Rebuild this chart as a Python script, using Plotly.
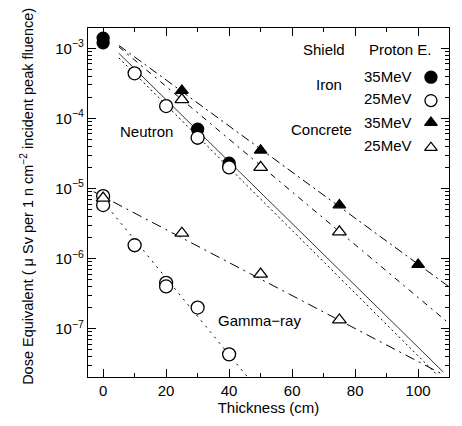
import plotly.graph_objects as go

# ---- data ----
# Neutron
iron35_n_x = [0, 0, 30, 40]
iron35_n_y = [1.4e-3, 1.2e-3, 7.0e-5, 2.3e-5]
iron25_n_x = [10, 20, 30, 40]
iron25_n_y = [4.4e-4, 1.5e-4, 5.3e-5, 2.0e-5]
conc35_n_x = [25, 50, 75, 100]
conc35_n_y = [2.5e-4, 3.5e-5, 5.8e-6, 8.2e-7]
conc25_n_x = [25, 50, 75]
conc25_n_y = [1.85e-4, 2.0e-5, 2.4e-6]
# Gamma-ray
iron25_g_x = [0, 0, 10, 20, 20, 30, 40]
iron25_g_y = [7.8e-6, 5.8e-6, 1.55e-6, 4.5e-7, 4.0e-7, 2.0e-7, 4.3e-8]
conc25_g_x = [0, 25, 50, 75]
conc25_g_y = [7.3e-6, 2.3e-6, 6.0e-7, 1.33e-7]

# fitted lines (endpoints)
fit_conc35_n = ([5, 110], [1.1e-3, 3.9e-7])
fit_conc25_n = ([5, 110], [1.05e-3, 1.17e-7])
fit_iron35_n = ([5, 108], [8.5e-4, 2.4e-8])
fit_iron25_n = ([5, 106], [7.3e-4, 2.2e-8])
fit_conc25_g = ([-3, 108], [9.0e-6, 2.2e-8])
fit_iron25_g = ([0, 46], [6.5e-6, 2.0e-8])

x_ticks = [0, 20, 40, 60, 80, 100]
x_minor = [10, 30, 50, 70, 90]
y_tick_exp = [-7, -6, -5, -4, -3]

legend_rows = ["35MeV", "25MeV", "35MeV", "25MeV"]

FONT = "Liberation Sans, Arial, sans-serif"
fig = go.Figure()

def line(fit, dash, width=1.0):
    fig.add_trace(go.Scatter(x=fit[0], y=fit[1], mode="lines",
                             line=dict(color="black", width=width, dash=dash),
                             showlegend=False, hoverinfo="skip"))

line(fit_conc35_n, "9px,4px,2px,4px")
line(fit_conc25_n, "6px,5px,2px,5px")
line(fit_iron35_n, "solid", 0.8)
line(fit_iron25_n, "2px,3px")
line(fit_conc25_g, "10px,5px,2px,5px")
line(fit_iron25_g, "2px,5px")

def pts(x, y, symbol, filled, size, xaxis="x", yaxis="y"):
    fig.add_trace(go.Scatter(x=x, y=y, mode="markers", xaxis=xaxis, yaxis=yaxis,
                             marker=dict(symbol=symbol, size=size,
                                         color="black" if filled else "white",
                                         line=dict(color="black", width=1.3)),
                             showlegend=False))

pts(iron35_n_x, iron35_n_y, "circle", True, 12)
pts(iron25_n_x, iron25_n_y, "circle", False, 13)
pts(conc35_n_x, conc35_n_y, "triangle-up", True, 11)
pts(conc25_n_x, conc25_n_y, "triangle-up", False, 12)
pts(iron25_g_x, iron25_g_y, "circle", False, 13)
pts(conc25_g_x, conc25_g_y, "triangle-up", False, 12)

# legend symbols on an overlay axis in [0,1]
leg_y = [0.859, 0.792, 0.729, 0.657]
leg_sym = [("circle", True, 12), ("circle", False, 12),
           ("triangle-up", True, 11), ("triangle-up", False, 11)]
for yy, (s, f, sz) in zip(leg_y, leg_sym):
    pts([0.950], [yy], s, f, sz, "x2", "y2")

ann = []
def txt(x, y, t, size=15, xanchor="center"):
    ann.append(dict(x=x, y=y, xref="paper", yref="paper", text=t, showarrow=False,
                    xanchor=xanchor, yanchor="middle", font=dict(family=FONT, size=size, color="black")))

txt(0.654, 0.939, "Shield")
txt(0.867, 0.939, "Proton E.")
for yy, t in zip([0.861, 0.798, 0.729, 0.662], legend_rows):
    txt(0.831, yy, t)
txt(0.668, 0.839, "Iron")
txt(0.648, 0.709, "Concrete")
txt(0.163, 0.704, "Neutron")
txt(0.474, 0.163, "Gamma\u2212ray")
ann.append(dict(x=-0.169, y=0.519, xref="paper", yref="paper",
                text="Dose Equivalent ( \u03bc Sv per 1 n cm<sup>\u22122</sup> incident peak fluence)",
                showarrow=False, textangle=-90, xanchor="center", yanchor="middle",
                font=dict(family=FONT, size=14.5, color="black")))

y_minor = [m * 10 ** e for e in range(-8, -2) for m in range(2, 10)]

fig.update_layout(
    width=462, height=426,
    margin=dict(l=88, r=13, t=28, b=37),
    paper_bgcolor="white", plot_bgcolor="white",
    font=dict(family=FONT, size=15, color="black"),
    annotations=ann,
    xaxis=dict(range=[-4.8, 109.8], showgrid=False, zeroline=False,
               showline=True, linecolor="black", linewidth=1.2, mirror="allticks",
               ticks="inside", ticklen=8, tickcolor="black",
               tickvals=x_ticks, ticktext=[str(v) for v in x_ticks],
               minor=dict(tickvals=x_minor, ticks="inside", ticklen=4, tickcolor="black"),
               title=dict(text="Thickness (cm)", font=dict(size=15), standoff=4),
               tickfont=dict(size=15)),
    yaxis=dict(type="log", range=[-7.69, -2.71], showgrid=False, zeroline=False,
               showline=True, linecolor="black", linewidth=1.2, mirror="allticks",
               ticks="inside", ticklen=8, tickcolor="black",
               tickvals=[10.0 ** e for e in y_tick_exp],
               ticktext=["10<sup>\u2212%d</sup>" % (-e) for e in y_tick_exp],
               minor=dict(tickvals=y_minor, ticks="inside", ticklen=4, tickcolor="black"),
               tickfont=dict(size=15)),
    xaxis2=dict(range=[0, 1], overlaying="x", visible=False),
    yaxis2=dict(range=[0, 1], overlaying="y", visible=False),
)

fig.write_html("out.html")
